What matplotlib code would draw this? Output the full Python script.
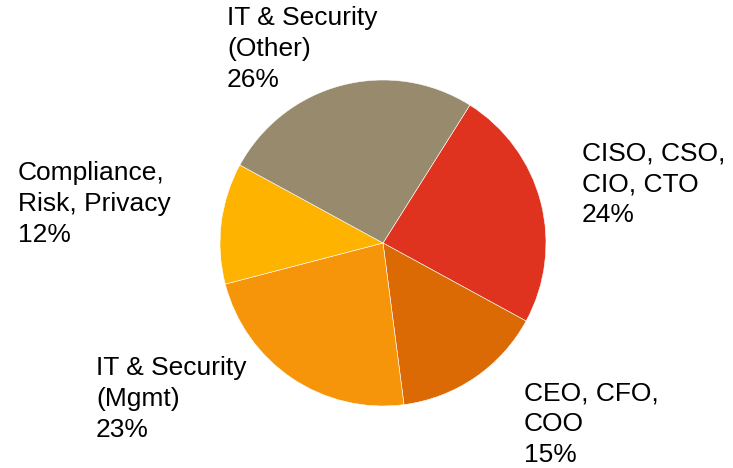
import matplotlib.pyplot as plt

# Share of respondents by role
roles = ['CISO, CSO,\nCIO, CTO', 'CEO, CFO,\nCOO', 'IT & Security\n(Mgmt)',
         'Compliance,\nRisk, Privacy', 'IT & Security\n(Other)']
shares = [24, 15, 23, 12, 26]
colors = ['#E0331F', '#DB6A05', '#F7950A', '#FDB300', '#978A6D']

# label anchor (top-left corner) for each role, in figure pixels
label_pos = [(582, 141), (524, 381), (96, 356), (18, 161), (227, 6)]

fig = plt.figure(figsize=(7.33, 4.68), dpi=100)
ax = fig.add_axes([0, 0, 1, 1])

ax.pie(shares, colors=colors, startangle=57.8, counterclock=False,
       center=(383, 468 - 243), radius=163,
       wedgeprops=dict(edgecolor='white', linewidth=0.4))
ax.set_xlim(0, 733)
ax.set_ylim(0, 468)
ax.set_aspect('equal')
ax.axis('off')

for role, share, (x, y) in zip(roles, shares, label_pos):
    ax.text(x, 468 - y, f'{role}\n{share}%', ha='left', va='top',
            fontsize=19, family='Liberation Sans', linespacing=1.38)

fig.savefig('out.png', dpi=100)
